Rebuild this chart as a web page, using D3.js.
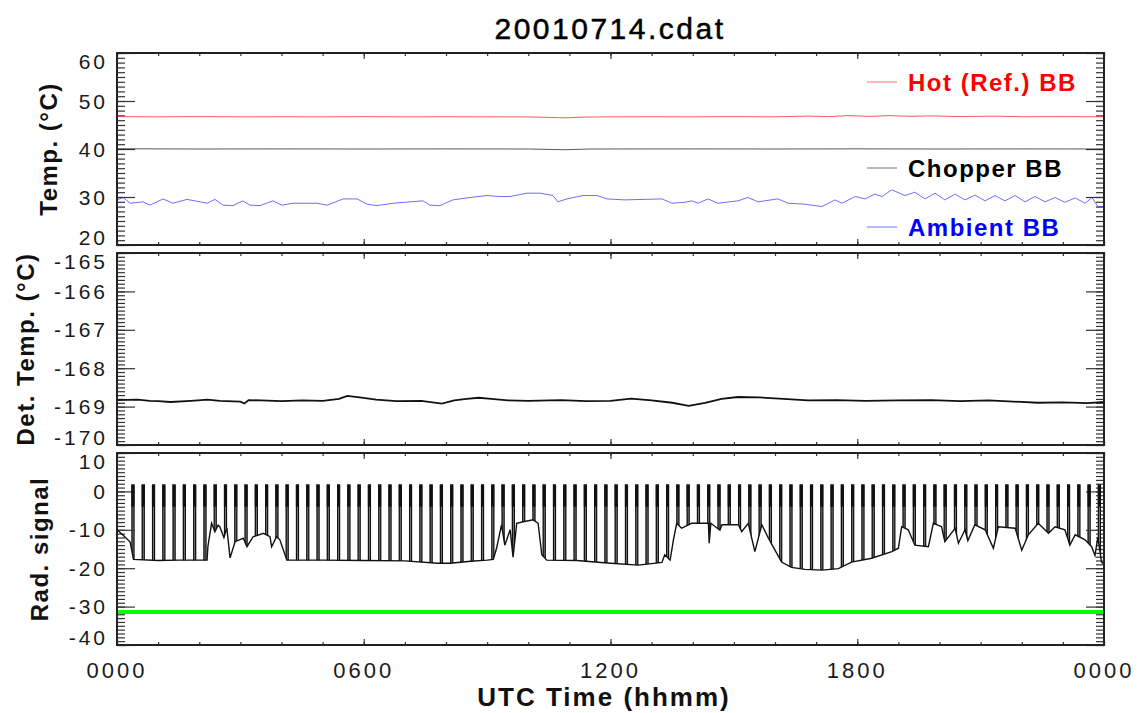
<!DOCTYPE html>
<html lang="en">
<head>
<meta charset="UTF-8">
<title>20010714.cdat</title>
<style>
  body { margin: 0; background: #fff; }
  svg text { font-family: "Liberation Sans", Arial, sans-serif; }
  .tick-label { font-size: 21px; letter-spacing: 3px; fill: #1a1a1a; }
  .axis-title { font-size: 24px; font-weight: bold; letter-spacing: 1.5px; fill: #111; }
  .legend { font-size: 24px; font-weight: bold; letter-spacing: 1.5px; }
  .ax path { display: none; }
  .ax line { stroke: #333; stroke-width: 1.2; }
</style>
</head>
<body>
<svg id="chart" width="1138" height="713"></svg>
<script src="https://d3js.org/d3.v7.min.js"></script>
<script>
// ---- data (time in decimal hours UTC) ----
const xTickHours = [0, 6, 12, 18, 24];
const xTickLabels = ["0000", "0600", "1200", "1800", "0000"];

const tempTicks = [20, 30, 40, 50, 60];
const detTicks = [-170, -169, -168, -167, -166, -165];
const radTicks = [-40, -30, -20, -10, 0, 10];

const hotBB = [
  [0, 46.75], [1, 46.7], [2, 46.75], [3, 46.7], [4, 46.72], [5, 46.7], [6, 46.74], [7, 46.7],
  [8, 46.72], [9, 46.7], [10, 46.68], [10.9, 46.5], [11.4, 46.65], [12, 46.7], [13, 46.72],
  [14, 46.7], [15, 46.75], [16, 46.7], [16.8, 46.85], [17.3, 46.75], [17.8, 46.95], [18.3, 46.8],
  [18.8, 46.95], [19.3, 46.8], [19.8, 46.9], [20.5, 46.75], [21.3, 46.85], [22, 46.72],
  [23, 46.75], [24, 46.7]
];

const chopperBB = [
  [0, 40.05], [2, 40.0], [4, 40.02], [6, 40.0], [8, 40.02], [10, 40.0], [10.9, 39.85],
  [11.5, 40.0], [14, 40.02], [16, 40.0], [18, 40.03], [20, 40.0], [22, 40.02], [24, 40.0]
];

const ambientBB = [
  [0, 29.4], [0.15, 29.9], [0.32, 28.7], [0.63, 29.0], [0.8, 28.3], [1.12, 29.6], [1.36, 28.7],
  [1.7, 29.5], [2.02, 29.0], [2.19, 28.7], [2.38, 29.5], [2.58, 28.3], [2.82, 28.2], [3.06, 29.2],
  [3.23, 28.3], [3.48, 28.2], [3.79, 29.2], [4.01, 28.3], [4.28, 28.7], [4.86, 28.7], [5.11, 28.3],
  [5.5, 29.6], [5.84, 29.6], [6.08, 28.5], [6.32, 28.2], [6.71, 28.7], [7.44, 29.2], [7.61, 28.3],
  [7.85, 28.2], [8.17, 29.4], [8.58, 29.9], [9.0, 30.3], [9.31, 30.1], [9.56, 30.1], [9.97, 30.8],
  [10.29, 30.8], [10.6, 30.3], [10.72, 29.0], [10.94, 29.6], [11.33, 30.3], [11.67, 30.3],
  [11.91, 29.6], [12.35, 29.4], [13.25, 29.6], [13.5, 28.7], [13.81, 28.9], [13.98, 29.2],
  [14.13, 28.7], [14.37, 29.6], [14.61, 28.7], [15.1, 29.2], [15.34, 29.9], [15.59, 29.0],
  [16.07, 29.6], [16.32, 28.7], [16.73, 28.5], [17.14, 28.0], [17.46, 29.4], [17.63, 28.7],
  [17.95, 30.1], [18.19, 29.6], [18.43, 30.6], [18.6, 30.1], [18.84, 31.5], [19.16, 30.3],
  [19.4, 31.0], [19.65, 29.6], [19.89, 30.8], [20.13, 29.4], [20.38, 30.6], [20.62, 29.4],
  [20.86, 30.4], [21.11, 29.2], [21.35, 30.3], [21.59, 29.2], [21.84, 30.3], [22.08, 29.0],
  [22.32, 30.1], [22.57, 29.0], [22.81, 29.9], [23.05, 28.9], [23.3, 29.8], [23.54, 28.7],
  [23.71, 29.9], [23.85, 28.0], [24, 28.0]
];

const detTemp = [
  [0, -168.83], [0.5, -168.82], [0.8, -168.85], [1.0, -168.86], [1.3, -168.88], [1.8, -168.85],
  [2.2, -168.82], [2.5, -168.85], [3.0, -168.87], [3.1, -168.92], [3.2, -168.83], [3.5, -168.84],
  [4.0, -168.86], [4.5, -168.84], [5.0, -168.85], [5.4, -168.8], [5.6, -168.72], [5.9, -168.76],
  [6.3, -168.82], [6.8, -168.86], [7.4, -168.85], [7.9, -168.92], [8.2, -168.84], [8.5, -168.8],
  [8.8, -168.77], [9.1, -168.8], [9.5, -168.84], [10.0, -168.85], [10.8, -168.83],
  [11.4, -168.86], [12.0, -168.85], [12.5, -168.79], [13.0, -168.84], [13.5, -168.9],
  [13.9, -168.98], [14.3, -168.9], [14.7, -168.8], [15.1, -168.75], [15.6, -168.76],
  [16.1, -168.79], [16.8, -168.84], [17.5, -168.83], [18.2, -168.85], [19.0, -168.84],
  [19.8, -168.83], [20.5, -168.86], [21.2, -168.84], [21.8, -168.87], [22.4, -168.9],
  [23.0, -168.89], [23.6, -168.91], [24.0, -168.88]
];

// lower envelope of the radiometer signal
const radBase = [
  [0, -10.0], [0.15, -11.4], [0.32, -13.2], [0.4, -17.7], [1.0, -18.0], [1.5, -17.9],
  [2.19, -17.9], [2.21, -14.4], [2.3, -8.3], [2.38, -10.5], [2.46, -8.8], [2.5, -9.2],
  [2.6, -12.0], [2.67, -9.5], [2.75, -17.3], [2.87, -13.1], [3.07, -12.2], [3.16, -14.4],
  [3.31, -11.8], [3.56, -10.9], [3.72, -11.8], [3.76, -14.4], [3.88, -11.8], [3.96, -12.6],
  [4.13, -17.9], [5.0, -17.9], [6.0, -18.0], [7.0, -18.1], [7.8, -18.7], [8.1, -18.7],
  [8.6, -18.2], [9.0, -17.9], [9.15, -17.7], [9.23, -14.8], [9.35, -8.7], [9.43, -14.0],
  [9.56, -10.0], [9.63, -17.1], [9.72, -8.3], [9.88, -7.9], [10.12, -7.4], [10.24, -8.3],
  [10.33, -16.5], [10.45, -17.9], [11.18, -18.0], [12.0, -18.7], [12.68, -19.2], [13.25, -18.5],
  [13.32, -16.5], [13.45, -17.9], [13.53, -12.6], [13.61, -8.3], [13.73, -9.6], [13.97, -8.3],
  [14.38, -8.3], [14.4, -13.5], [14.44, -8.3], [14.66, -10.1], [14.71, -8.7], [15.11, -8.7],
  [15.19, -10.5], [15.35, -8.3], [15.51, -15.7], [15.68, -8.7], [15.84, -12.2], [16.0, -15.3],
  [16.16, -18.4], [16.4, -19.8], [16.73, -20.3], [17.14, -20.5], [17.54, -20.1], [17.86, -18.4],
  [18.35, -17.4], [18.84, -15.7], [19.0, -14.8], [19.08, -9.2], [19.24, -10.0], [19.4, -14.0],
  [19.73, -14.4], [19.85, -8.3], [20.05, -9.2], [20.13, -13.1], [20.38, -9.6], [20.46, -13.5],
  [20.62, -10.0], [20.69, -12.8], [20.86, -8.7], [21.11, -10.0], [21.31, -14.8], [21.43, -9.2],
  [21.84, -9.6], [22.0, -15.3], [22.16, -11.3], [22.4, -8.3], [22.65, -10.9], [22.81, -9.2],
  [23.05, -10.0], [23.17, -14.0], [23.3, -11.3], [23.54, -12.6], [23.7, -14.4], [23.78, -16.7],
  [23.85, -12.0], [23.94, -18.4], [24.0, -19.0]
];

// blackbody views: the signal jumps up to the top level
const spikeTimes = [
  0.35, 0.6, 0.85, 1.1, 1.35, 1.6, 1.85, 2.1, 2.35, 2.6, 2.85, 3.1, 3.35, 3.6, 3.85, 4.1,
  4.35, 4.6, 4.85, 5.1, 5.35, 5.6, 5.85, 6.1, 6.35, 6.6, 6.85, 7.1, 7.35, 7.6, 7.85, 8.1,
  8.35, 8.6, 8.85, 9.1, 9.35, 9.6, 9.85, 10.1, 10.35, 10.6, 10.85, 11.1, 11.35, 11.6, 11.85,
  12.1, 12.35, 12.6, 12.85, 13.1, 13.35, 13.6, 13.85, 14.1, 14.35, 14.6, 14.85, 15.1, 15.35,
  15.6, 15.85, 16.1, 16.35, 16.6, 16.85, 17.1, 17.35, 17.6, 17.85, 18.1, 18.35, 18.6, 18.85,
  19.1, 19.35, 19.6, 19.85, 20.1, 20.35, 20.6, 20.85, 21.1, 21.35, 21.6, 21.85, 22.1, 22.35,
  22.6, 22.85, 23.1, 23.35, 23.6, 23.85
];
const spikeTop = 1.8;
const greenLevel = -31.4;

// ---- layout ----
const svg = d3.select("#chart");
const left = 117, right = 1104, panelH = 192;

const x = d3.scaleLinear().domain([0, 24]).range([left, right]);
const hourTicks = d3.range(0, 25, 1);

const panels = [
  { top: 53, ticks: tempTicks, minorStep: 1, title: "Temp. (°C)", titleX: 48 },
  { top: 253, ticks: detTicks, minorStep: 0.1, title: "Det. Temp. (°C)", titleX: 25 },
  { top: 453, ticks: radTicks, minorStep: 1, title: "Rad. signal", titleX: 39 }
];

panels.forEach(p => {
  const lo = p.ticks[0], hi = p.ticks[p.ticks.length - 1];
  p.y = d3.scaleLinear().domain([lo, hi]).range([p.top + panelH, p.top]);
  const minor = d3.range(lo, hi + p.minorStep / 2, p.minorStep);

  const g = svg.append("g");

  // y ticks, left and right, pointing inward
  g.append("g").attr("class", "ax").attr("transform", `translate(${left},0)`)
    .call(d3.axisLeft(p.y).tickValues(minor).tickSize(-8).tickFormat(""));
  g.append("g").attr("class", "ax").attr("transform", `translate(${left},0)`)
    .call(d3.axisLeft(p.y).tickValues(p.ticks).tickSize(-18).tickFormat(""));
  g.append("g").attr("class", "ax").attr("transform", `translate(${right},0)`)
    .call(d3.axisRight(p.y).tickValues(minor).tickSize(-8).tickFormat(""));
  g.append("g").attr("class", "ax").attr("transform", `translate(${right},0)`)
    .call(d3.axisRight(p.y).tickValues(p.ticks).tickSize(-18).tickFormat(""));

  // x ticks, top and bottom
  g.append("g").attr("class", "ax").attr("transform", `translate(0,${p.top + panelH})`)
    .call(d3.axisBottom(x).tickValues(hourTicks).tickSize(-3).tickFormat(""));
  g.append("g").attr("class", "ax").attr("transform", `translate(0,${p.top + panelH})`)
    .call(d3.axisBottom(x).tickValues(xTickHours).tickSize(-6).tickFormat(""));
  g.append("g").attr("class", "ax").attr("transform", `translate(0,${p.top})`)
    .call(d3.axisTop(x).tickValues(hourTicks).tickSize(-3).tickFormat(""));
  g.append("g").attr("class", "ax").attr("transform", `translate(0,${p.top})`)
    .call(d3.axisTop(x).tickValues(xTickHours).tickSize(-6).tickFormat(""));

  // tick labels (end labels nudged inward like the original)
  g.selectAll(".ylab").data(p.ticks).enter().append("text")
    .attr("class", "tick-label")
    .attr("x", 108)
    .attr("y", (d, i) => p.y(d) + (i === 0 ? -8 : i === p.ticks.length - 1 ? 8 : 0))
    .attr("dy", "0.36em")
    .attr("text-anchor", "end")
    .text(d => d);

  g.append("text")
    .attr("class", "axis-title")
    .attr("transform", `translate(${p.titleX},${p.top + panelH / 2}) rotate(-90)`)
    .attr("text-anchor", "middle")
    .attr("dy", "0.36em")
    .text(p.title);

  p.g = g;
});

const line = d3.line().x(d => x(d[0]));

// ---- top panel: blackbody temperatures ----
const pT = panels[0];
pT.g.append("path").datum(hotBB)
  .attr("d", line.y(d => pT.y(d[1])))
  .attr("fill", "none").attr("stroke", "#ff3030").attr("stroke-width", 1).attr("opacity", 0.8);
pT.g.append("path").datum(chopperBB)
  .attr("d", line.y(d => pT.y(d[1])))
  .attr("fill", "none").attr("stroke", "#222").attr("stroke-width", 1).attr("opacity", 0.75);
pT.g.append("path").datum(ambientBB)
  .attr("d", line.y(d => pT.y(d[1])))
  .attr("fill", "none").attr("stroke", "#3030ff").attr("stroke-width", 1).attr("opacity", 0.7);

const legendItems = [
  { label: "Hot (Ref.) BB", color: "#ff0000", y: 82 },
  { label: "Chopper BB", color: "#000000", y: 168 },
  { label: "Ambient BB", color: "#0000ff", y: 227 }
];
legendItems.forEach(it => {
  pT.g.append("line")
    .attr("x1", 867).attr("x2", 897).attr("y1", it.y).attr("y2", it.y)
    .attr("stroke", it.color).attr("stroke-width", 1).attr("opacity", 0.55);
  pT.g.append("text")
    .attr("class", "legend")
    .attr("x", 908).attr("y", it.y).attr("dy", "0.36em")
    .attr("fill", it.color)
    .text(it.label);
});

// ---- middle panel: detector temperature ----
const pD = panels[1];
pD.g.append("path").datum(detTemp)
  .attr("d", line.y(d => pD.y(d[1])))
  .attr("fill", "none").attr("stroke", "#111").attr("stroke-width", 1.8);

// ---- bottom panel: radiometer signal ----
const pR = panels[2];
const clipArea = d3.area().x(d => x(d[0])).y0(pR.top).y1(d => pR.y(d[1]));
svg.append("clipPath").attr("id", "above-base")
  .append("path").datum(radBase).attr("d", clipArea);

const spikes = pR.g.append("g").attr("clip-path", "url(#above-base)");
spikeTimes.forEach(t => {
  const sx = x(t);
  spikes.append("rect")
    .attr("x", sx).attr("width", 3)
    .attr("y", pR.y(spikeTop)).attr("height", pR.y(-25) - pR.y(spikeTop))
    .attr("fill", "#8a8a8a");
  spikes.append("rect")
    .attr("x", sx).attr("width", 3)
    .attr("y", pR.y(spikeTop)).attr("height", pR.y(-4) - pR.y(spikeTop))
    .attr("fill", "#111");
  [sx + 0.6, sx + 2.6].forEach(lx => {
    spikes.append("line")
      .attr("x1", lx).attr("x2", lx)
      .attr("y1", pR.y(spikeTop)).attr("y2", pR.y(-25))
      .attr("stroke", "#111").attr("stroke-width", 1.2);
  });
});

pR.g.append("path").datum(radBase)
  .attr("d", line.y(d => pR.y(d[1])))
  .attr("fill", "none").attr("stroke", "#111").attr("stroke-width", 1.4);

pR.g.append("line")
  .attr("x1", x(0)).attr("x2", x(24))
  .attr("y1", pR.y(greenLevel)).attr("y2", pR.y(greenLevel))
  .attr("stroke", "#00ff00").attr("stroke-width", 4);

// ---- frames ----
panels.forEach(p => {
  svg.append("rect")
    .attr("x", left).attr("y", p.top)
    .attr("width", right - left).attr("height", panelH)
    .attr("fill", "none").attr("stroke", "#222").attr("stroke-width", 2);
});

// ---- x labels and titles ----
svg.selectAll(".xlab").data(xTickHours).enter().append("text")
  .attr("class", "tick-label")
  .style("font-size", "22px")
  .attr("x", d => x(d)).attr("y", 670).attr("dy", "0.36em")
  .attr("text-anchor", "middle")
  .text((d, i) => xTickLabels[i]);

svg.append("text")
  .attr("class", "axis-title")
  .style("font-size", "26px").style("letter-spacing", "2px")
  .attr("x", 604).attr("y", 697).attr("dy", "0.36em")
  .attr("text-anchor", "middle")
  .text("UTC Time (hhmm)");

svg.append("text")
  .attr("x", 610).attr("y", 28).attr("dy", "0.36em")
  .attr("text-anchor", "middle")
  .style("font-size", "30px").style("letter-spacing", "2.5px").style("fill", "#000")
  .style("stroke", "#000").style("stroke-width", 0.5)
  .text("20010714.cdat");
</script>
</body>
</html>
